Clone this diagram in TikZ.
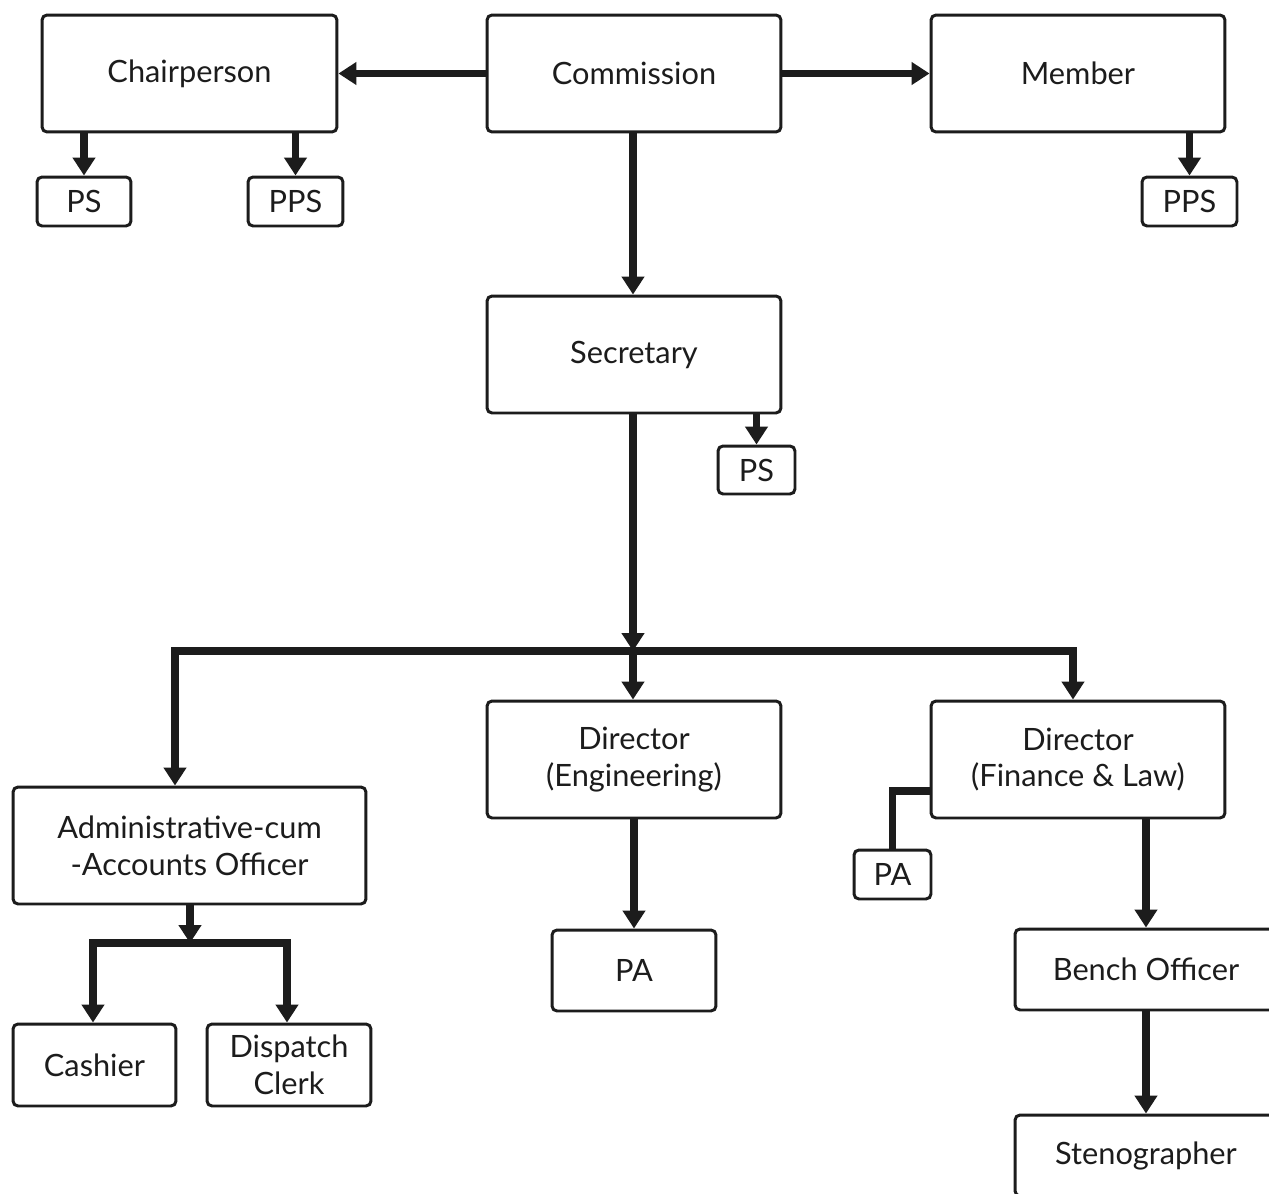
\documentclass[tikz,border=0pt]{standalone}
\usepackage{fontspec}
\setmainfont{Lato}
\usetikzlibrary{arrows.meta,calc}
\definecolor{ink}{HTML}{1C1C1C}
\begin{document}
\begin{tikzpicture}[x=0.02cm,y=-0.02cm,
  box/.style={draw=ink,fill=white,line width=1.7pt,rounded corners=0.1cm,
    inner sep=0pt,align=center,text=ink,
    font=\fontsize{17.5}{21}\selectfont},
  conn/.style={draw=ink,line width=4pt,line join=miter},
  arr/.style={conn,-{Triangle[length=0.36cm,width=0.44cm]}}]
\clip (0,0) rectangle (1269,1194);
\fill[white] (0,0) rectangle (1269,1194);
% coordinates
\coordinate (bus) at (633,651);
\coordinate (j1) at (175,651);
\coordinate (j3) at (1073,651);
\coordinate (k) at (0,791);
\coordinate (b2) at (190,943);
\coordinate (b2l) at (93,943);
\coordinate (b2r) at (287,943);
% nodes
\node[box,minimum width=5.9cm,minimum height=2.34cm] (chair) at (189.5,73.5) {Chairperson};
\node[box,minimum width=5.88cm,minimum height=2.34cm] (comm) at (634,73.5) {Commission};
\node[box,minimum width=5.88cm,minimum height=2.34cm] (member) at (1078,73.5) {Member};
\node[box,minimum width=1.88cm,minimum height=0.98cm] (ps1) at (84,201.5) {PS};
\node[box,minimum width=1.9cm,minimum height=0.98cm] (pps1) at (295.5,201.5) {PPS};
\node[box,minimum width=1.9cm,minimum height=0.98cm] (pps2) at (1189.5,201.5) {PPS};
\node[box,minimum width=5.88cm,minimum height=2.34cm] (sec) at (634,354.5) {Secretary};
\node[box,minimum width=1.54cm,minimum height=0.96cm] (ps2) at (756.5,470) {PS};
\node[box,minimum width=5.88cm,minimum height=2.34cm] (deng) at (634,759.5) {Director\\(Engineering)};
\node[box,minimum width=5.88cm,minimum height=2.34cm] (dfl) at (1078,759.5) {Director\\(Finance \& Law)};
\node[box,minimum width=7.06cm,minimum height=2.34cm] (admin) at (189.5,845.5) {Administrative-cum\\-Accounts Officer};
\node[box,minimum width=3.28cm,minimum height=1.62cm] (pa1) at (634,970.5) {PA};
\node[box,minimum width=1.54cm,minimum height=0.98cm] (pa2) at (892.5,874.5) {PA};
\node[box,minimum width=5.24cm,minimum height=1.62cm] (bench) at (1146,969.5) {Bench Officer};
\node[box,minimum width=5.24cm,minimum height=1.62cm] (steno) at (1146,1155.5) {Stenographer};
\node[box,minimum width=3.26cm,minimum height=1.64cm] (cashier) at (94.5,1065) {Cashier};
\node[box,minimum width=3.28cm,minimum height=1.64cm] (dispatch) at (289,1065) {Dispatch\\Clerk};
% connectors
\draw[arr] (comm.west) -- (chair.east);
\draw[arr] (comm.east) -- (member.west);
\draw[arr] (ps1.north |- chair.south) -- (ps1.north);
\draw[arr] (pps1.north |- chair.south) -- (pps1.north);
\draw[arr] (pps2.north |- member.south) -- (pps2.north);
\draw[arr] (bus |- comm.south) -- (bus |- sec.north);
\draw[arr] (ps2.north |- sec.south) -- (ps2.north);
\draw[conn] ([xshift=-2pt]j1) -- ([xshift=2pt]j3);
\draw[arr] (bus |- sec.south) -- (bus);
\draw[arr] (bus) -- (bus |- deng.north);
\draw[arr] (j1) -- (j1 |- admin.north);
\draw[arr] (j3) -- (j3 |- dfl.north);
\draw[arr] (deng.south) -- (pa1.north);
\draw[conn] (dfl.west |- k) -- (pa2.north |- k) -- (pa2.north);
\draw[arr] (bench.north |- dfl.south) -- (bench.north);
\draw[arr] (bench.south) -- (steno.north);
\draw[arr] (b2 |- admin.south) -- (b2);
\draw[conn] ([xshift=-2pt]b2l) -- ([xshift=2pt]b2r);
\draw[arr] (b2l) -- (b2l |- cashier.north);
\draw[arr] (b2r) -- (b2r |- dispatch.north);
\end{tikzpicture}
\end{document}
